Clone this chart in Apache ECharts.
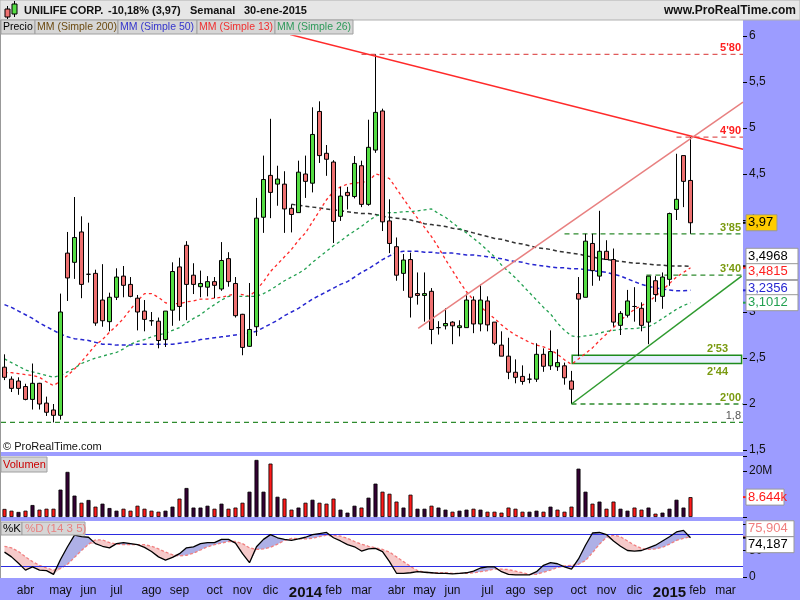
<!DOCTYPE html>
<html><head><meta charset="utf-8">
<script src="https://cdn.jsdelivr.net/npm/echarts/dist/echarts.min.js"></script>
<style>html,body{margin:0;padding:0;background:#fff;}#c{width:800px;height:600px;}</style>
</head><body><div id="c"></div>
<script>
// ---------- DATA ----------
const firstWeekMonday = [2013, 2, 11];
const totalWeeks = 106; // 99 traded weeks + 7 empty future weeks
const monthNames = ['ene','feb','mar','abr','may','jun','jul','ago','sep','oct','nov','dic'];

// open, close, low, high (weekly)
const candles = [
[2.40,2.29,2.26,2.54],[2.27,2.17,2.13,2.30],[2.25,2.17,2.10,2.29],[2.19,2.05,2.04,2.22],[2.05,2.225,1.94,2.44],
[2.225,2.00,1.94,2.23],[2.01,1.91,1.87,2.08],[1.935,1.877,1.80,2.00],[1.877,3.00,1.83,3.20],[3.64,3.37,3.12,3.87],
[3.54,3.81,3.36,4.25],[3.87,3.30,3.15,4.04],[3.41,3.41,3.32,3.97],[3.42,2.88,2.85,3.46],[3.13,2.905,2.84,3.52],
[2.895,3.16,2.79,3.21],[3.16,3.38,3.13,3.475],[3.39,3.29,3.16,3.50],[3.30,3.17,3.16,3.38],[3.15,3.00,2.80,3.185],
[3.01,2.92,2.79,3.13],[2.905,2.905,2.85,3.00],[2.90,2.69,2.605,2.94],[2.70,3.01,2.62,3.01],[3.02,3.44,2.85,3.54],
[3.49,3.06,2.905,3.59],[3.725,3.30,2.91,3.77],[3.40,3.30,3.195,3.53],[3.275,3.31,3.16,3.45],[3.27,3.33,3.17,3.39],
[3.33,3.29,3.15,3.38],[3.25,3.56,3.23,3.76],[3.58,3.33,3.275,3.65],[3.31,2.96,2.94,3.38],[2.975,2.615,2.53,2.98],
[2.627,2.81,2.62,3.315],[2.84,4.02,2.74,4.24],[4.03,4.44,3.86,4.70],[4.485,4.30,4.02,5.10],[4.39,4.445,4.155,4.59],
[4.39,4.12,3.86,4.53],[4.127,4.06,3.865,4.17],[4.08,4.52,4.08,4.645],[4.50,4.42,4.24,4.70],[4.40,4.93,4.30,5.225],
[5.18,4.70,4.62,5.29],[4.725,4.66,4.48,4.815],[4.63,3.985,3.75,4.65],[4.04,4.26,3.99,4.36],[4.30,4.265,4.115,4.36],
[4.255,4.615,4.235,4.695],[4.59,4.17,4.14,4.645],[4.17,4.79,4.155,5.09],[4.76,5.17,4.73,5.80],[5.185,3.98,3.88,5.21],
[3.99,3.745,3.64,4.225],[3.71,3.40,3.34,3.81],[3.42,3.565,3.23,3.63],[3.57,3.16,2.94,3.645],[3.20,3.18,3.08,3.43],
[3.18,3.20,2.895,3.43],[3.225,2.81,2.65,3.26],[2.83,2.83,2.755,2.90],[2.85,2.875,2.81,3.04],[2.89,2.85,2.65,2.90],
[2.83,2.85,2.735,2.91],[2.83,3.13,2.83,3.20],[3.13,2.87,2.77,3.17],[2.87,3.13,2.79,3.30],[3.12,2.86,2.79,3.17],
[2.89,2.66,2.64,2.89],[2.64,2.52,2.52,2.79],[2.52,2.345,2.27,2.72],[2.345,2.29,2.225,2.485],[2.30,2.245,2.21,2.42],
[2.27,2.27,2.225,2.33],[2.27,2.54,2.24,2.66],[2.54,2.41,2.35,2.605],[2.415,2.57,2.37,2.80],[2.405,2.45,2.36,2.595],
[2.415,2.285,2.21,2.45],[2.25,2.16,2.00,2.36],[3.20,3.14,2.52,3.38],[3.16,3.77,3.16,3.85],[3.745,3.45,3.285,3.85],
[3.39,3.66,3.34,4.10],[3.66,3.57,3.57,3.78],[3.57,2.89,2.84,3.69],[2.855,2.985,2.75,3.01],[2.965,3.12,2.94,3.24],
[3.06,3.06,2.895,3.27],[3.04,2.855,2.79,3.105],[2.89,3.39,2.65,3.39],[3.34,3.19,3.11,3.39],[3.17,3.38,3.035,3.43],
[3.355,4.07,3.285,4.08],[4.115,4.225,4.00,4.72],[4.70,4.42,4.14,4.70],[4.43,3.97,3.85,4.90]
];

const ma13 = [2.34,2.34,2.33,2.32,2.31,2.29,2.24,2.20,2.25,2.31,2.38,2.46,2.55,2.64,2.70,2.78,2.85,2.93,3.03,3.12,
3.20,3.20,3.16,3.10,3.09,3.09,3.11,3.12,3.14,3.14,3.15,3.16,3.18,3.20,3.19,3.17,3.24,3.33,3.44,3.52,
3.60,3.68,3.78,3.86,3.98,4.10,4.22,4.31,4.36,4.39,4.40,4.41,4.42,4.50,4.48,4.45,4.34,4.23,4.12,4.02,
3.92,3.82,3.70,3.57,3.45,3.33,3.22,3.13,3.06,2.99,2.93,2.86,2.80,2.75,2.71,2.67,2.64,2.62,2.59,2.54,
2.48,2.43,2.49,2.55,2.61,2.69,2.76,2.83,2.91,2.97,3.03,3.07,3.11,3.17,3.24,3.31,3.38,3.43,3.4815];

const ma26 = [2.49,2.45,2.41,2.37,2.35,2.33,2.31,2.29,2.31,2.35,2.39,2.44,2.47,2.50,2.52,2.54,2.56,2.60,2.65,2.68,
2.70,2.73,2.75,2.77,2.80,2.83,2.88,2.93,2.97,3.03,3.08,3.13,3.17,3.17,3.17,3.17,3.17,3.20,3.24,3.29,
3.34,3.38,3.42,3.47,3.54,3.60,3.66,3.72,3.77,3.83,3.88,3.93,3.99,4.04,4.07,4.08,4.08,4.09,4.09,4.10,
4.11,4.12,4.07,4.03,3.97,3.91,3.86,3.80,3.74,3.67,3.60,3.51,3.44,3.37,3.29,3.21,3.13,3.05,2.98,2.88,
2.80,2.74,2.73,2.74,2.75,2.77,2.79,2.80,2.81,2.82,2.82,2.83,2.84,2.88,2.93,2.98,3.03,3.07,3.1012];

const ma50 = [3.08,3.05,3.01,2.97,2.93,2.88,2.84,2.80,2.76,2.73,2.71,2.70,2.69,2.67,2.65,2.65,2.64,2.64,2.64,2.65,
2.65,2.65,2.65,2.65,2.65,2.66,2.67,2.68,2.70,2.71,2.72,2.73,2.74,2.75,2.76,2.77,2.79,2.83,2.87,2.91,
2.96,3.00,3.04,3.09,3.14,3.18,3.22,3.26,3.30,3.33,3.38,3.43,3.47,3.52,3.57,3.61,3.65,3.66,3.66,3.66,
3.65,3.65,3.64,3.64,3.64,3.63,3.62,3.62,3.61,3.60,3.59,3.58,3.56,3.55,3.54,3.52,3.51,3.50,3.49,3.48,
3.48,3.47,3.47,3.46,3.45,3.44,3.43,3.41,3.39,3.36,3.33,3.30,3.28,3.26,3.25,3.24,3.23,3.23,3.2356];

const ma200 = [null,null,null,null,null,null,null,null,null,null,null,null,null,null,null,null,null,null,null,null,
null,null,null,null,null,null,null,null,null,null,null,null,null,null,null,null,null,null,null,null,
null,4.17,4.16,4.15,4.14,4.13,4.12,4.11,4.10,4.09,4.08,4.07,4.07,4.06,4.04,4.03,4.02,4.01,4.00,3.98,
3.96,3.95,3.94,3.93,3.91,3.90,3.88,3.86,3.84,3.82,3.80,3.79,3.77,3.75,3.74,3.72,3.70,3.69,3.68,3.66,
3.65,3.64,3.63,3.61,3.60,3.58,3.57,3.56,3.55,3.54,3.53,3.53,3.52,3.51,3.51,3.50,3.50,3.50,3.4968];

// weekly volume, millions
const volume = [3.5,2.75,2.2,2.75,5.2,3.2,3.6,3.6,11.9,19.6,9.3,6.2,7.4,4.5,5.8,3.9,2.75,3.6,2.75,4.9,
3.6,2.75,2.3,2.75,4.5,8.0,12.6,4.1,4.1,4.9,3.6,5.8,3.6,4.1,6.2,11.0,24.8,11.0,23.2,8.8,
8.0,3.2,4.1,6.2,7.5,6.2,5.8,8.0,3.2,1.9,4.9,4.1,8.4,14.5,11.0,10.1,6.7,4.1,9.7,3.6,
3.6,4.9,4.1,3.2,2.3,2.75,3.2,3.6,3.2,2.3,2.3,1.9,4.1,3.6,2.3,2.3,2.75,2.3,4.5,3.2,
2.3,4.5,21.0,11.0,5.8,6.7,3.6,6.7,3.6,2.75,4.1,3.2,4.1,1.45,1.9,3.6,7.5,4.1,8.644];
// 1 = close above previous close (dark bar), 0 = below (red bar)
const volumeUp = [0,0,1,0,1,0,0,0,1,1,1,0,1,0,1,1,1,0,0,0,
0,0,0,1,1,0,1,1,1,1,0,1,0,0,0,1,1,1,0,1,
0,0,1,0,1,0,0,0,1,1,1,0,1,1,0,0,0,1,0,1,
1,0,1,1,0,1,1,0,1,0,0,0,0,0,0,1,1,0,1,0,
0,0,1,1,0,1,0,0,1,1,0,0,1,0,1,1,1,1,0];

const stochK = [47,38,26,13,19,13,12,5,33,57,79,76,75,63,58,55,63,65,63,61,
56,48,38,32,37,44,55,57,63,65,65,71,71,64,44,27,57,71,80,74,
71,69,72,75,80,82,84,74,68,61,57,49,53,54,48,29,7,7,8,10,
9,8,7,7,6,7,8,11,17,19,19,10,5,4,4,4,10,22,27,25,
19,15,34,60,83,84,80,68,58,50,49,50,55,60,68,76,85,88,74.187];
const stochD = [58,55,48,38,29,22,17,13,16,24,37,50,62,70,70,65,62,61,61,61,
61,58,53,47,42,40,41,45,51,57,61,64,67,67,63,55,52,53,56,62,
69,73,72,72,73,76,79,79,77,73,67,62,58,55,52,47,38,29,20,12,
9,8,8,8,7,7,7,8,10,12,15,15,14,11,8,5,5,9,13,18,
21,22,24,31,46,62,75,79,76,68,60,54,52,53,56,62,69,73,75.904];
const stochBands = [20, 80];

// drawn annotations: [weekIndex, price]
const resistanceLine = [[40.8, 6.016], [105.5, 4.769]];
const pinkTrendLine = [[59.1, 2.823], [105.5, 5.28]];
const supportLine = [[81.0, 2.00], [105.3, 3.39]];
const levelLines = [
  {price:5.80, from:51,   label:"5'80", color:'#E05A5A', text:'#FF2020'},
  {price:4.90, from:96,   label:"4'90", color:'#E05A5A', text:'#FF2020'},
  {price:3.85, from:80,   label:"3'85", color:'#2E8B2E', text:'#7A9A10'},
  {price:3.40, from:91.7, label:"3'40", color:'#2E8B2E', text:'#7A9A10'},
  {price:2.00, from:81,   label:"2'00", color:'#2E8B2E', text:'#7A9A10'},
  {price:1.80, from:-0.5, label:"1,8",  color:'#2E8B2E', text:'#555555'}
];
const gapZone = {from:81.1, to:105.3, top:2.53, bottom:2.44, topLabel:"2'53", bottomLabel:"2'44"};

// ---------- BUILD ----------
const categories = [];
const d0 = Date.UTC(firstWeekMonday[0], firstWeekMonday[1], firstWeekMonday[2]);
for (let i = 0; i < totalWeeks; i++) categories.push(new Date(d0 + i*7*864e5).toISOString().slice(0,10));
function isMonthStart(i){ return i > 0 && categories[i].slice(5,7) !== categories[i-1].slice(5,7); }
const fmtComma = v => String(v).replace('.', ',');

const lastIdx = totalWeeks - 0.5;
const candleData = candles.map(c => [c[0], c[1], c[2], c[3]]);
const volData = volume.map((v,i) => ({value:v, itemStyle:{color: volumeUp[i] ? '#330033' : '#FF1A1A'}}));
const stLow = stochK.map((k,i) => Math.min(k, stochD[i]));
const stBlue = stochK.map((k,i) => Math.max(0, k - stochD[i]));
const stPink = stochK.map((k,i) => Math.max(0, stochD[i] - k));

const dash = [4,3];
const series = [
  {type:'candlestick', xAxisIndex:0, yAxisIndex:0, data:candleData, barWidth:5,
   itemStyle:{color:'#55DD44', color0:'#EE7070', borderColor:'#000', borderColor0:'#000', borderWidth:1}, z:5},
  {type:'line', name:'ma200', xAxisIndex:0, yAxisIndex:0, data:ma200, showSymbol:false, lineStyle:{color:'#333', width:1.5, type:dash}, z:4},
  {type:'line', name:'ma50', xAxisIndex:0, yAxisIndex:0, data:ma50, showSymbol:false, lineStyle:{color:'#2626D0', width:1.5, type:dash}, z:4},
  {type:'line', name:'ma13', xAxisIndex:0, yAxisIndex:0, data:ma13, showSymbol:false, lineStyle:{color:'#FF2A2A', width:1.3, type:[3,3]}, z:4},
  {type:'line', name:'ma26', xAxisIndex:0, yAxisIndex:0, data:ma26, showSymbol:false, lineStyle:{color:'#22A050', width:1.3, type:[3,3]}, z:4},
  {type:'line', xAxisIndex:3, yAxisIndex:0, data:resistanceLine, symbol:'none', lineStyle:{color:'#FF2A2A', width:1.5}, z:6, silent:true},
  {type:'line', xAxisIndex:3, yAxisIndex:0, data:pinkTrendLine, symbol:'none', lineStyle:{color:'#E88080', width:1.5}, z:6, silent:true},
  {type:'line', xAxisIndex:3, yAxisIndex:0, data:supportLine, symbol:'none', lineStyle:{color:'#2E9A2E', width:1.5}, z:6, silent:true,
   markArea:{silent:true, itemStyle:{color:'#E8EEFF', borderColor:'#1E8C1E', borderWidth:1.5},
     data:[[{coord:[gapZone.from, gapZone.top]},{coord:[gapZone.to, gapZone.bottom]}]]}},
];
levelLines.forEach(l => series.push({type:'line', xAxisIndex:3, yAxisIndex:0, symbol:'none', silent:true, z:3,
  data:[[l.from, l.price],[lastIdx, l.price]], lineStyle:{color:l.color, width:1.3, type:[5,4]}}));
series.push(
  {type:'bar', xAxisIndex:1, yAxisIndex:1, data:volData, barWidth:4, itemStyle:{borderColor:'#000', borderWidth:0.8}},
  {type:'line', xAxisIndex:2, yAxisIndex:2, data:stLow, stack:'b', showSymbol:false, lineStyle:{width:0}, silent:true},
  {type:'line', xAxisIndex:2, yAxisIndex:2, data:stBlue, stack:'b', showSymbol:false, lineStyle:{width:0}, areaStyle:{color:'#AEB0E6', opacity:1}, silent:true},
  {type:'line', xAxisIndex:2, yAxisIndex:2, data:stLow, stack:'p', showSymbol:false, lineStyle:{width:0}, silent:true},
  {type:'line', xAxisIndex:2, yAxisIndex:2, data:stPink, stack:'p', showSymbol:false, lineStyle:{width:0}, areaStyle:{color:'#F6CACA', opacity:1}, silent:true},
  {type:'line', xAxisIndex:2, yAxisIndex:2, data:stochD, showSymbol:false, lineStyle:{color:'#F08080', width:1.3, type:[3,2]}, z:4},
  {type:'line', xAxisIndex:2, yAxisIndex:2, data:stochK, showSymbol:false, lineStyle:{color:'#000', width:1.3}, z:5,
   markLine:{silent:true, symbol:'none', label:{show:false}, lineStyle:{color:'#2B2BE0', width:1, type:'solid'},
     data: stochBands.map(b => ({yAxis:b}))}}
);

const axisText = {color:'#111', fontSize:12, fontFamily:'Liberation Sans, Arial, sans-serif'};
const yCommon = {type:'value', position:'right', splitLine:{show:false}, axisLine:{show:false, onZero:false},
  axisTick:{show:true, length:4, lineStyle:{color:'#000'}}};
const option = {
  animation:false,
  backgroundColor:'#fff',
  grid:[
    {left:1, width:742, top:36, height:414},
    {left:1, width:742, top:456, height:61},
    {left:1, width:742, top:524, height:53}
  ],
  xAxis:[
    {type:'category', gridIndex:0, data:categories, show:false},
    {type:'category', gridIndex:1, data:categories, show:false},
    {type:'category', gridIndex:2, data:categories, axisLine:{show:false}, axisTick:{show:false}, splitLine:{show:false},
     axisLabel:{interval:(i)=>isMonthStart(i), margin:8, hideOverlap:false,
       formatter:(v)=>{ const m = +v.slice(5,7); return m===1 ? '{y|'+v.slice(0,4)+'}' : '{m|'+monthNames[m-1]+'}'; },
       rich:{m:{fontSize:12, color:'#111', fontFamily:'Liberation Sans, Arial, sans-serif'},
             y:{fontSize:15, fontWeight:'bold', color:'#111', fontFamily:'Liberation Sans, Arial, sans-serif'}}}},
    {type:'value', gridIndex:0, min:-0.5, max:lastIdx, show:false}
  ],
  yAxis:[
    Object.assign({gridIndex:0, min:1.5, max:6, interval:0.5, axisLabel:Object.assign({formatter:fmtComma, margin:6}, axisText)}, yCommon),
    Object.assign({gridIndex:1, min:0, max:26.5, interval:20, axisLabel:Object.assign({formatter:v=> v===20 ? '20M' : '', margin:6}, axisText)}, yCommon),
    Object.assign({gridIndex:2, min:0, max:100, interval:50, axisLabel:Object.assign({formatter:v=> v===100 ? '' : String(v), margin:6}, axisText)}, yCommon)
  ],
  series:series
};

const chart = echarts.init(document.getElementById('c'));
chart.setOption(option);

// ---------- DECORATION (panels, labels, value tags) ----------
const band = '#9C9CFF';
const py = v => chart.convertToPixel({yAxisIndex:0}, v);
const vy = v => chart.convertToPixel({yAxisIndex:1}, v);
const sy = v => chart.convertToPixel({yAxisIndex:2}, v);
const g = [];
const F = 'Liberation Sans, Arial, sans-serif';
function rect(x,y,w,h,fill,stroke,z){ g.push({type:'rect', shape:{x,y,width:w,height:h}, style:{fill, stroke:stroke||null, lineWidth:1}, z:z==null?-10:z, silent:true}); }
function text(x,y,t,fill,font,align,z){ g.push({type:'text', x, y, style:{text:t, fill, font, textAlign:align||'left', textVerticalAlign:'middle'}, z:z==null?50:z, silent:true}); }
// backgrounds
rect(743,20,57,580,band,null,-20);
rect(0,578,800,22,band,null,-20);
rect(0,452,800,4,band,null,-20);
rect(0,517,800,4,band,null,-20);
rect(0,0,800,20,'#E6E6E6','#B0B0B0',-20);
rect(0,20,1,558,'#999',null,-20);
// header icon
rect(5,9,5,8,'#EE7070','#000',30); g.push({type:'line', shape:{x1:7.5,y1:6,x2:7.5,y2:19}, style:{stroke:'#000'}, z:29});
rect(12,4,5,10,'#55DD44','#000',30); g.push({type:'line', shape:{x1:14.5,y1:1,x2:14.5,y2:17}, style:{stroke:'#000'}, z:29});
const hf = 'bold 11px '+F;
text(24,11,'UNILIFE CORP.','#111',hf);
text(108,11,'-10,18% (3,97)','#111',hf);
text(190,11,'Semanal','#111',hf);
text(244,11,'30-ene-2015','#111',hf);
text(796,11,'www.ProRealTime.com','#111','bold 12px '+F,'right');
// legend buttons
const legend = [['Precio','#000',1,34],['MM (Simple 200)','#6B4A10',35,83],['MM (Simple 50)','#3434CC',118,79],['MM (Simple 13)','#F03030',197,78],['MM (Simple 26)','#2E9A5A',275,78]];
legend.forEach(l => { rect(l[2],20,l[3],14,'#D6D6D6','#A0A0A0',40); text(l[2]+2,27.5,l[0],l[1],'10.5px '+F,'left',41); });
rect(1,457,46,15,'#D6D6D6','#A0A0A0',40); text(3,464.5,'Volumen','#CC0000','11px '+F,'left',41);
rect(1,522,21,13,'#D6D6D6','#A0A0A0',40); text(3,528.5,'%K','#000','11.5px '+F,'left',41);
rect(22,522,63,13,'#D6D6D6','#A0A0A0',40); text(25,528.5,'%D (14 3 5)','#E88080','11.5px '+F,'left',41);
text(3,447,'\u00A9 ProRealTime.com','#111','11px '+F);
// level labels
levelLines.forEach(l => text(741, py(l.price) - 6, l.label, l.text, (l.label==='1,8'?'':'bold ')+'11px '+F, 'right'));
text(728, py(gapZone.top) - 6, gapZone.topLabel, '#7A9A10', 'bold 11px '+F, 'right');
text(728, py(gapZone.bottom) + 8, gapZone.bottomLabel, '#7A9A10', 'bold 11px '+F, 'right');
// value tags
function tag(y, value, t, fill, bg, tickColor, w){
  g.push({type:'line', shape:{x1:743,y1:value,x2:748,y2:value}, style:{stroke:tickColor, lineWidth:2}, z:99});
  rect(746, y-8, w||52, 16, bg, '#999', 100);
  text(748, y, t, fill, '13px '+F, 'left', 101);
}
const last = candles.length - 1;
const lastClose = candles[last][1];
tag(py(lastClose), py(lastClose), fmtComma(lastClose.toFixed(2)), '#000', '#FFCC00', '#000', 31);
tag(py(ma200[last]) - 10, py(ma200[last]), fmtComma(ma200[last].toFixed(4)), '#000', '#fff', '#000');
tag(py(ma13[last]) + 4, py(ma13[last]), fmtComma(ma13[last].toFixed(4)), '#FF2020', '#fff', '#FF2020');
tag(py(ma50[last]) - 2, py(ma50[last]), fmtComma(ma50[last].toFixed(4)), '#2626D0', '#fff', '#2626D0');
tag(py(ma26[last]), py(ma26[last]), fmtComma(ma26[last].toFixed(4)), '#22A050', '#fff', '#22A050');
tag(vy(volume[last]), vy(volume[last]), fmtComma(volume[last].toFixed(3)).replace(',', '.') + 'k', '#FF1A1A', '#fff', '#FF1A1A', 38);
tag(sy(stochD[last]) - 8, sy(stochD[last]), fmtComma(stochD[last].toFixed(3)), '#F08080', '#fff', '#F08080', 48);
tag(sy(stochK[last]) + 7, sy(stochK[last]), fmtComma(stochK[last].toFixed(3)), '#000', '#fff', '#000', 48);
chart.setOption({graphic:g});
</script></body></html>
